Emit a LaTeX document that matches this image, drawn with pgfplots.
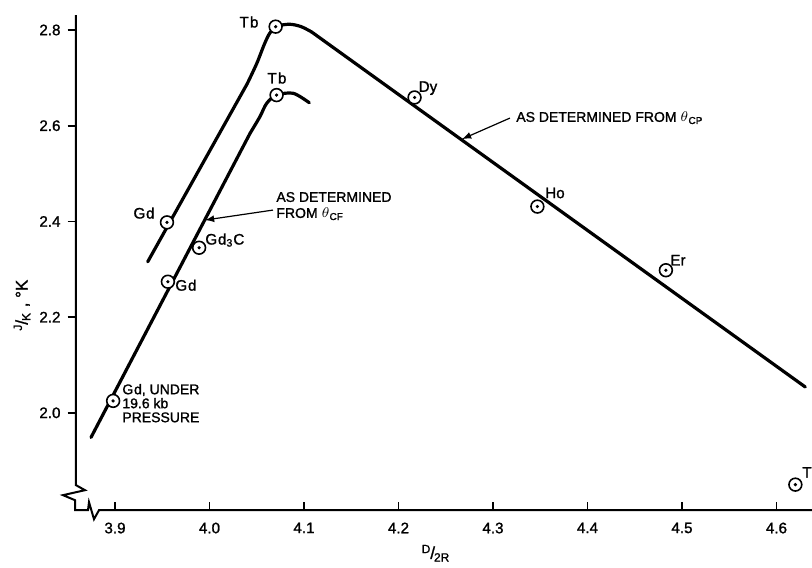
\documentclass[border=0pt]{standalone}
\usepackage{pgfplots}
\pgfplotsset{compat=1.18}
\usepackage{fontspec}
\setmainfont{Liberation Sans}[FakeBold=1.3]
\begin{document}
\begin{tikzpicture}
\begin{axis}[
 scale only axis, width=368pt, height=247.5pt,
 xmin=3.8587, xmax=4.6376, ymin=1.7966, ymax=2.831,
 axis x line*=bottom, axis y line*=left,
 axis line style={draw=none},
 clip=false,
 xtick={3.9,4.0,4.1,4.2,4.3,4.4,4.5,4.6},
 ytick={2.0,2.2,2.4,2.6,2.8},
 xtick align=inside, ytick align=outside,
 major tick length=4.2pt,
 tick style={black, line width=0.9pt},
 /pgf/number format/assume math mode=true,
 xticklabel={\pgfmathprintnumber[fixed,fixed zerofill,precision=1]{\tick}},
 yticklabel={\pgfmathprintnumber[fixed,fixed zerofill,precision=1]{\tick}},
 ticklabel style={font=\fontsize{7.6}{9}\selectfont},
 xticklabel style={yshift=-2.7pt},
]
% axis lines with breaks
\draw[line width=1pt, line join=miter] (axis cs:3.8587,2.831) -- (axis cs:3.8587,1.8489) -- (axis cs:3.86825,1.8384) -- (axis cs:3.84497,1.8280) -- (axis cs:3.85767,1.8175) -- (axis cs:3.85767,1.7966) -- (axis cs:3.87143,1.7966) -- (axis cs:3.87249,1.8133) -- (axis cs:3.87778,1.7778) -- (axis cs:3.88307,1.7966) -- (axis cs:4.6376,1.7966);

% upper curve (theta_CP)
\addplot[black, line width=1.6pt, line cap=round] coordinates {(3.9346,2.3156) (4.040,2.688)};
\addplot[black, line width=1.6pt, line cap=round, smooth] coordinates {(4.040,2.688) (4.050,2.730) (4.058,2.770) (4.064,2.794) (4.072,2.808) (4.085,2.812) (4.097,2.807) (4.108,2.796)};
\addplot[black, line width=1.6pt, line cap=round] coordinates {(4.108,2.796) (4.6305,2.054)};

% lower curve (theta_CF)
\addplot[black, line width=1.6pt, line cap=round] coordinates {(3.8746,1.9486) (4.0429,2.584)};
\addplot[black, line width=1.6pt, line cap=round, smooth] coordinates {(4.0429,2.584) (4.0534,2.619) (4.0605,2.6467) (4.071,2.664) (4.0887,2.6677) (4.1056,2.648)};

% data points
\addplot[only marks, mark=*, mark size=3.2pt, mark options={draw=black, fill=white, line width=0.8pt}] coordinates {
(3.955,2.398) (3.956,2.274) (3.989,2.345) (3.898,2.025) (4.070,2.807) (4.071,2.664)
(4.217,2.659) (4.347,2.431) (4.483,2.298) (4.620,1.850)};
\addplot[only marks, mark=*, mark size=0.6pt, black] coordinates {
(3.955,2.398) (3.956,2.274) (3.989,2.345) (3.898,2.025) (4.070,2.807) (4.071,2.664)
(4.217,2.659) (4.347,2.431) (4.483,2.298) (4.620,1.850)};

% labels
\begin{scope}[font=\fontsize{7.6}{8.5}\selectfont]
\node at (axis cs:4.0418,2.8167) {T\kern0.6pt b};
\node at (axis cs:4.0714,2.6996) {T\kern0.6pt b};
\node at (axis cs:3.9307,2.4174) {G\kern0.4pt d};
\node[anchor=west, inner sep=0pt] at (axis cs:3.9952,2.361) {G\kern0.4pt d\textsubscript{3}C};
\node[anchor=west, inner sep=0pt] at (axis cs:3.9635,2.2667) {G\kern0.4pt d};
\node[anchor=north west, inner sep=0pt, align=left, font=\fontsize{7}{7}\selectfont] at (axis cs:3.9074,2.061) {G\kern0.4pt d, UNDER\\19.6 kb\\PRESSURE};
\node at (axis cs:4.2312,2.6785) {Dy};
\node at (axis cs:4.3656,2.4594) {Ho};
\node at (axis cs:4.4958,2.319) {Er};
\node[anchor=west, inner sep=0pt] at (axis cs:4.627,1.8757) {Tm};
\node[anchor=west, inner sep=0pt, align=left, font=\fontsize{7}{8}\selectfont] at (axis cs:4.0704,2.432) {AS DETERMINED\\FROM $\theta$\textsubscript{CF}};
\node[anchor=west, inner sep=0pt, font=\fontsize{7}{8}\selectfont] at (axis cs:4.3243,2.616) {AS DETERMINED FROM $\theta$\textsubscript{CP}};
\end{scope}
\draw[-latex, line width=0.6pt] (axis cs:4.0672,2.4237) -- (axis cs:3.9952,2.4028);
\draw[-latex, line width=0.6pt] (axis cs:4.318,2.616) -- (axis cs:4.2672,2.572);

% axis labels
\node[font=\fontsize{8.5}{9}\selectfont] at (axis cs:4.2397,1.7067) {\textsuperscript{D}\kern-0.5pt/\kern-0.5pt\textsubscript{2R}};
\node[rotate=90, font=\fontsize{8.5}{9}\selectfont] at (axis cs:3.8016,2.225) {\textsuperscript{J}\kern-0.5pt/\kern-0.5pt\textsubscript{K} , \textdegree K};

\coordinate (bbSW) at (axis cs:3.7783,1.6775);
\coordinate (bbNE) at (axis cs:4.6376,2.8627);
\end{axis}
\pgfresetboundingbox
\path[use as bounding box] (bbSW) rectangle (bbNE);
\end{tikzpicture}
\end{document}
